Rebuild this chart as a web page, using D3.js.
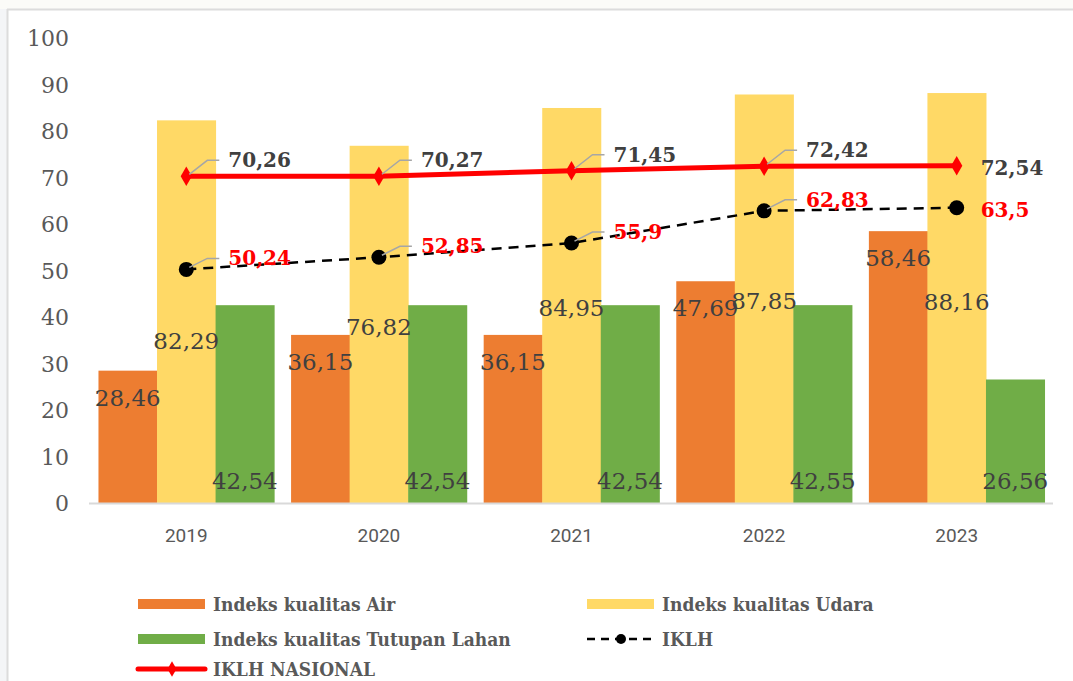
<!DOCTYPE html>
<html>
<head>
<meta charset="utf-8">
<script src="https://cdn.jsdelivr.net/npm/d3@7"></script>
<style>
html,body{margin:0;padding:0;background:#fff;}
svg{display:block;}
</style>
</head>
<body>
<svg id="chart" width="1073" height="681"></svg>
<script>
// ---- data ----
const years = ["2019", "2020", "2021", "2022", "2023"];
const airValues = [28.46, 36.15, 36.15, 47.69, 58.46];
const udaraValues = [82.29, 76.82, 84.95, 87.85, 88.16];
const lahanValues = [42.54, 42.54, 42.54, 42.55, 26.56];
const iklhValues = [50.24, 52.85, 55.9, 62.83, 63.5];
const nasionalValues = [70.26, 70.27, 71.45, 72.42, 72.54];
const yTicks = [0, 10, 20, 30, 40, 50, 60, 70, 80, 90, 100];
const seriesNames = ["Indeks kualitas Air", "Indeks kualitas Udara", "Indeks kualitas Tutupan Lahan", "IKLH", "IKLH NASIONAL"];
// label anchor levels (value units) for the Udara labels, as placed in the source chart
const udaraLabelLevel = [34.8, 37.8, 41.9, 43.4, 43.2];

const fmt = v => String(v).replace(".", ",");

const colors = { air: "#ED7D31", udara: "#FFD966", lahan: "#70AD47", iklh: "#000000", nas: "#FF0000" };

const svg = d3.select("#chart");

// page background / frame
svg.append("rect").attr("x", 0).attr("y", 0).attr("width", 1073).attr("height", 681).attr("fill", "#ffffff");
svg.append("rect").attr("x", 0).attr("y", 0).attr("width", 7).attr("height", 681).attr("fill", "#f4f5f7");
svg.append("rect").attr("x", 0).attr("y", 0).attr("width", 1073).attr("height", 9).attr("fill", "#fbfbf8");
svg.append("line").attr("x1", 7.5).attr("x2", 7.5).attr("y1", 9).attr("y2", 681).attr("stroke", "#dcdcdc").attr("stroke-width", 2);
svg.append("line").attr("x1", 7).attr("x2", 1073).attr("y1", 9.5).attr("y2", 9.5).attr("stroke", "#dcdcdc").attr("stroke-width", 2);

// scales
const y = d3.scaleLinear().domain([0, 100]).range([503, 38]);
const x = d3.scaleBand().domain(years).range([90, 1053]).paddingInner(0.088).paddingOuter(0.044);
const barKeys = ["air", "udara", "lahan"];
const xs = d3.scaleBand().domain(barKeys).range([0, x.bandwidth()]);

const rows = years.map((yr, i) => ({
  year: yr, air: airValues[i], udara: udaraValues[i], lahan: lahanValues[i],
  iklh: iklhValues[i], nas: nasionalValues[i], udaraLab: udaraLabelLevel[i]
}));

// y axis (labels only)
const yAxis = d3.axisLeft(y).tickValues(yTicks).tickSize(0).tickPadding(0).tickFormat(d => d);
const gy = svg.append("g").attr("transform", "translate(69,0)").call(yAxis);
gy.select(".domain").remove();
gy.selectAll("text").attr("font-family", "DejaVu Serif").attr("font-size", 22).attr("fill", "#595959").attr("dy", "0.35em");

// bars
const groups = svg.append("g").selectAll("g").data(rows).join("g")
  .attr("transform", d => `translate(${x(d.year)},0)`);
barKeys.forEach(k => {
  groups.append("rect")
    .attr("x", xs(k)).attr("width", xs.bandwidth() + 0.5)
    .attr("y", d => y(d[k])).attr("height", d => y(0) - y(d[k]))
    .attr("fill", colors[k]);
});

// x axis line
svg.append("line").attr("x1", 89).attr("x2", 1053).attr("y1", y(0) + 0.5).attr("y2", y(0) + 0.5)
  .attr("stroke", "#d9d9d9").attr("stroke-width", 2);
const xAxis = d3.axisBottom(x).tickSize(0).tickPadding(0);
const gx = svg.append("g").attr("transform", `translate(0,${y(0)})`).call(xAxis);
gx.select(".domain").remove();
gx.selectAll("text").attr("font-family", "Roboto").attr("font-size", 19).attr("fill", "#595959")
  .attr("y", 32).attr("dy", "0.35em");

// bar labels
const barLabelStyle = s => s.attr("font-family", "DejaVu Serif").attr("font-size", 23).attr("fill", "#404040")
  .attr("text-anchor", "middle").attr("dominant-baseline", "central");
groups.append("text").call(barLabelStyle)
  .attr("x", xs("air") + xs.bandwidth() / 2).attr("y", d => y(d.air) + 27).text(d => fmt(d.air));
groups.append("text").call(barLabelStyle)
  .attr("x", xs("udara") + xs.bandwidth() / 2).attr("y", d => y(d.udaraLab)).text(d => fmt(d.udara));
groups.append("text").call(barLabelStyle)
  .attr("x", xs("lahan") + xs.bandwidth() / 2).attr("y", y(0) - 22).text(d => fmt(d.lahan));

const cx = d => x(d.year) + x.bandwidth() / 2;

// IKLH dashed line
svg.append("path").datum(rows)
  .attr("d", d3.line().x(cx).y(d => y(d.iklh)))
  .attr("fill", "none").attr("stroke", colors.iklh).attr("stroke-width", 2.5).attr("stroke-dasharray", "10,7");
svg.append("g").selectAll("circle").data(rows).join("circle")
  .attr("cx", cx).attr("cy", d => y(d.iklh)).attr("r", 7.5).attr("fill", "#000");

// IKLH NASIONAL line
svg.append("path").datum(rows)
  .attr("d", d3.line().x(cx).y(d => y(d.nas)))
  .attr("fill", "none").attr("stroke", colors.nas).attr("stroke-width", 5);
const diamond = d3.symbol().type(d3.symbolDiamond).size(110);
svg.append("g").selectAll("path").data(rows).join("path")
  .attr("d", diamond).attr("transform", d => `translate(${cx(d)},${y(d.nas)})`).attr("fill", colors.nas);

// leader lines + labels for line series
const last = years.length - 1;
function lineLabels(key, color, dyOff) {
  const g = svg.append("g");
  rows.forEach((d, i) => {
    const px = cx(d), py = y(d[key]);
    if (i === last) {
      g.append("text").attr("x", px + 24).attr("y", py + 2)
        .attr("font-family", "DejaVu Serif").attr("font-weight", "bold").attr("font-size", 20)
        .attr("fill", color).attr("dominant-baseline", "central").text(fmt(d[key]));
    } else {
      g.append("path").attr("d", `M${px + 3},${py - 2}L${px + 21},${py + dyOff}L${px + 33},${py + dyOff}`)
        .attr("fill", "none").attr("stroke", "#a6a6a6").attr("stroke-width", 1.5);
      g.append("text").attr("x", px + 42).attr("y", py + dyOff)
        .attr("font-family", "DejaVu Serif").attr("font-weight", "bold").attr("font-size", 20)
        .attr("fill", color).attr("dominant-baseline", "central").text(fmt(d[key]));
    }
  });
}
lineLabels("nas", "#404040", -16);
lineLabels("iklh", "#FF0000", -11);

// legend
const lg = svg.append("g");
const legTextStyle = s => s.attr("font-family", "DejaVu Serif Condensed, DejaVu Serif").attr("font-weight", "bold")
  .attr("font-size", 19).attr("fill", "#595959").attr("dominant-baseline", "central");
const legItems = [
  { name: seriesNames[0], type: "bar", color: colors.air, lx: 138, ly: 604 },
  { name: seriesNames[1], type: "bar", color: colors.udara, lx: 587, ly: 604 },
  { name: seriesNames[2], type: "bar", color: colors.lahan, lx: 138, ly: 639 },
  { name: seriesNames[3], type: "iklh", color: colors.iklh, lx: 587, ly: 639 },
  { name: seriesNames[4], type: "nas", color: colors.nas, lx: 138, ly: 669 }
];
legItems.forEach(it => {
  if (it.type === "bar") {
    lg.append("rect").attr("x", it.lx).attr("y", it.ly - 5).attr("width", 67).attr("height", 10).attr("fill", it.color);
  } else if (it.type === "iklh") {
    lg.append("line").attr("x1", it.lx).attr("x2", it.lx + 67).attr("y1", it.ly).attr("y2", it.ly)
      .attr("stroke", "#000").attr("stroke-width", 2.5).attr("stroke-dasharray", "8,6");
    lg.append("circle").attr("cx", it.lx + 34).attr("cy", it.ly).attr("r", 5).attr("fill", "#000");
  } else {
    lg.append("line").attr("x1", it.lx).attr("x2", it.lx + 67).attr("y1", it.ly).attr("y2", it.ly)
      .attr("stroke", it.color).attr("stroke-width", 5).attr("stroke-linecap", "round");
    lg.append("path").attr("d", d3.symbol().type(d3.symbolDiamond).size(70)).attr("transform", `translate(${it.lx + 34},${it.ly})`).attr("fill", it.color);
  }
  lg.append("text").call(legTextStyle).attr("x", it.lx + 75).attr("y", it.ly).text(it.name);
});
</script>
</body>
</html>
